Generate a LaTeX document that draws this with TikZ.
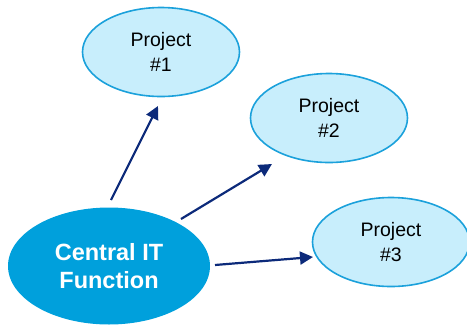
\documentclass[tikz,border=0pt]{standalone}
\usepackage{fontspec}
\setmainfont{Liberation Sans}
\usetikzlibrary{shapes.geometric,arrows.meta}
\definecolor{hubblue}{RGB}{0,160,220}
\definecolor{projfill}{RGB}{200,238,252}
\definecolor{projline}{RGB}{27,161,219}
\definecolor{navy}{RGB}{12,42,122}
\tikzset{
  hub/.style={ellipse, fill=hubblue, draw=none, inner sep=0pt,
    minimum width=202pt, minimum height=117pt, text=white,
    font=\fontsize{23.5}{28}\selectfont\bfseries, align=center},
  project/.style={ellipse, fill=projfill, draw=projline, line width=1.6pt,
    inner sep=0pt, minimum width=157pt, minimum height=89pt,
    font=\fontsize{19.5}{25}\selectfont, align=center},
  arr/.style={draw=navy, line width=2.2pt,
    -{Triangle[length=13pt,width=13pt]}}
}
\begin{document}
\begin{tikzpicture}[x=1pt,y=-1pt]
\useasboundingbox (0,0) rectangle (467,325);
\node[hub] (c) at (109,266) {Central IT\\Function};
\node[project] (p1) at (161,52) {Project\\\#1};
\node[project] (p2) at (329,118) {Project\\\#2};
\node[project] (p3) at (391,242) {Project\\\#3};
\draw[arr] ([shift={(2,-66)}]c.center) -- ([shift={(-3,54)}]p1.center);
\draw[arr] ([shift={(72,-47)}]c.center) -- ([shift={(-57,46)}]p2.center);
\draw[arr] ([shift={(106,-1)}]c.center) -- ([shift={(-78,15)}]p3.center);
\end{tikzpicture}
\end{document}
